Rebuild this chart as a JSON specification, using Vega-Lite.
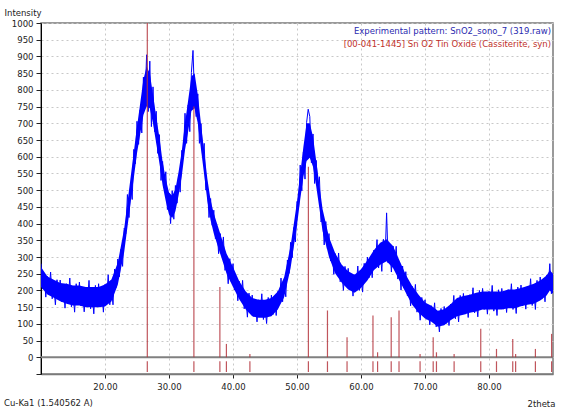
{
  "$schema": "https://vega.github.io/schema/vega-lite/v6.json",
  "width": 512,
  "height": 351,
  "autosize": "none",
  "padding": {"left": 41, "top": 23, "right": 9, "bottom": 37},
  "background": "white",
  "config": {
    "view": {"stroke": "#7a7a7a", "strokeWidth": 1.5},
    "font": "DejaVu Sans",
    "axis": {"labelFont": "DejaVu Sans", "titleFont": "DejaVu Sans", "labelFontSize": 8.5, "labelColor": "#222", "titleFontWeight": "normal", "titleFontSize": 8.5, "titleColor": "#222"}
  },
  "title": {"text": "Cu-Ka1 (1.540562 A)", "orient": "bottom", "anchor": "start", "frame": "group", "dx": -37, "dy": -9, "offset": 0, "fontSize": 8.5, "fontWeight": "normal", "color": "#222", "font": "DejaVu Sans"},
  "datasets": {
    "xrd": [
      {"t":10,"i":280},{"t":10.25,"i":205},{"t":10.5,"i":247},{"t":10.75,"i":180},{"t":11,"i":242},{"t":11.25,"i":198},{"t":11.5,"i":255},{"t":11.75,"i":175},
      {"t":12,"i":214},{"t":12.25,"i":157},{"t":12.5,"i":232},{"t":12.75,"i":174},{"t":13,"i":231},{"t":13.25,"i":166},{"t":13.5,"i":211},{"t":13.75,"i":147},
      {"t":14,"i":220},{"t":14.25,"i":174},{"t":14.5,"i":237},{"t":14.75,"i":151},{"t":15,"i":195},{"t":15.25,"i":135},{"t":15.5,"i":220},{"t":15.75,"i":160},
      {"t":16,"i":225},{"t":16.25,"i":154},{"t":16.5,"i":202},{"t":16.75,"i":136},{"t":17,"i":210},{"t":17.25,"i":165},{"t":17.5,"i":230},{"t":17.75,"i":145},
      {"t":18,"i":190},{"t":18.25,"i":130},{"t":18.5,"i":215},{"t":18.75,"i":155},{"t":19,"i":220},{"t":19.25,"i":150},{"t":19.5,"i":203},{"t":19.75,"i":135},
      {"t":20,"i":218},{"t":20.25,"i":172},{"t":20.5,"i":247},{"t":20.75,"i":157},{"t":21,"i":211},{"t":21.25,"i":157},{"t":21.5,"i":264},{"t":21.75,"i":209},
      {"t":22,"i":294},{"t":22.25,"i":241},{"t":22.5,"i":323},{"t":22.75,"i":272},{"t":23,"i":386},{"t":23.25,"i":370},{"t":23.5,"i":487},{"t":23.75,"i":418},
      {"t":24,"i":513},{"t":24.25,"i":472},{"t":24.5,"i":622},{"t":24.75,"i":579},{"t":25,"i":706},{"t":25.25,"i":637},{"t":25.5,"i":740},{"t":25.75,"i":671},
      {"t":26,"i":838},{"t":26.25,"i":759},{"t":26.5,"i":905},{"t":26.75,"i":735},{"t":27,"i":886},{"t":27.25,"i":690},{"t":27.5,"i":809},{"t":27.75,"i":675},
      {"t":28,"i":736},{"t":28.25,"i":610},{"t":28.5,"i":666},{"t":28.75,"i":529},{"t":29,"i":586},{"t":29.25,"i":508},{"t":29.5,"i":555},{"t":29.75,"i":442},
      {"t":30,"i":491},{"t":30.25,"i":400},{"t":30.5,"i":498},{"t":30.75,"i":413},{"t":31,"i":514},{"t":31.25,"i":461},{"t":31.5,"i":544},{"t":31.75,"i":494},
      {"t":32,"i":619},{"t":32.25,"i":600},{"t":32.5,"i":730},{"t":32.75,"i":640},{"t":33,"i":755},{"t":33.25,"i":675},{"t":33.5,"i":852},{"t":33.75,"i":918},
      {"t":34,"i":770},{"t":34.25,"i":720},{"t":34.5,"i":788},{"t":34.75,"i":640},{"t":35,"i":699},{"t":35.25,"i":601},{"t":35.5,"i":640},{"t":35.75,"i":500},
      {"t":36,"i":511},{"t":36.25,"i":418},{"t":36.5,"i":475},{"t":36.75,"i":395},{"t":37,"i":440},{"t":37.25,"i":355},{"t":37.5,"i":390},{"t":37.75,"i":310},
      {"t":38,"i":370},{"t":38.25,"i":310},{"t":38.5,"i":360},{"t":38.75,"i":260},{"t":39,"i":290},{"t":39.25,"i":220},{"t":39.5,"i":295},{"t":39.75,"i":225},
      {"t":40,"i":280},{"t":40.25,"i":201},{"t":40.5,"i":239},{"t":40.75,"i":169},{"t":41,"i":227},{"t":41.25,"i":178},{"t":41.5,"i":230},{"t":41.75,"i":145},
      {"t":42,"i":179},{"t":42.25,"i":120},{"t":42.5,"i":192},{"t":42.75,"i":133},{"t":43,"i":186},{"t":43.25,"i":122},{"t":43.5,"i":165},{"t":43.75,"i":106},
      {"t":44,"i":172},{"t":44.25,"i":132},{"t":44.5,"i":190},{"t":44.75,"i":113},{"t":45,"i":154},{"t":45.25,"i":101},{"t":45.5,"i":179},{"t":45.75,"i":127},
      {"t":46,"i":186},{"t":46.25,"i":128},{"t":46.5,"i":178},{"t":46.75,"i":125},{"t":47,"i":197},{"t":47.25,"i":166},{"t":47.5,"i":237},{"t":47.75,"i":166},
      {"t":48,"i":220},{"t":48.25,"i":181},{"t":48.5,"i":291},{"t":48.75,"i":251},{"t":49,"i":344},{"t":49.25,"i":298},{"t":49.5,"i":388},{"t":49.75,"i":345},
      {"t":50,"i":466},{"t":50.25,"i":451},{"t":50.5,"i":575},{"t":50.75,"i":498},{"t":51,"i":614},{"t":51.25,"i":533},{"t":51.5,"i":702},{"t":51.75,"i":742},
      {"t":52,"i":720},{"t":52.25,"i":582},{"t":52.5,"i":668},{"t":52.75,"i":520},{"t":53,"i":589},{"t":53.25,"i":496},{"t":53.5,"i":540},{"t":53.75,"i":405},
      {"t":54,"i":421},{"t":54.25,"i":336},{"t":54.5,"i":406},{"t":54.75,"i":325},{"t":55,"i":370},{"t":55.25,"i":288},{"t":55.5,"i":325},{"t":55.75,"i":248},
      {"t":56,"i":310},{"t":56.25,"i":257},{"t":56.5,"i":312},{"t":56.75,"i":226},{"t":57,"i":259},{"t":57.25,"i":200},{"t":57.5,"i":272},{"t":57.75,"i":213},
      {"t":58,"i":266},{"t":58.25,"i":201},{"t":58.5,"i":243},{"t":58.75,"i":183},{"t":59,"i":247},{"t":59.25,"i":211},{"t":59.5,"i":273},{"t":59.75,"i":200},
      {"t":60,"i":244},{"t":60.25,"i":195},{"t":60.5,"i":281},{"t":60.75,"i":230},{"t":61,"i":300},{"t":61.25,"i":238},{"t":61.5,"i":295},{"t":61.75,"i":238},
      {"t":62,"i":320},{"t":62.25,"i":280},{"t":62.5,"i":352},{"t":62.75,"i":267},{"t":63,"i":321},{"t":63.25,"i":257},{"t":63.5,"i":353},{"t":63.75,"i":290},
      {"t":64,"i":432},{"t":64.25,"i":282},{"t":64.5,"i":332},{"t":64.75,"i":255},{"t":65,"i":333},{"t":65.25,"i":274},{"t":65.5,"i":332},{"t":65.75,"i":234},
      {"t":66,"i":270},{"t":66.25,"i":201},{"t":66.5,"i":273},{"t":66.75,"i":207},{"t":67,"i":256},{"t":67.25,"i":184},{"t":67.5,"i":221},{"t":67.75,"i":154},
      {"t":68,"i":212},{"t":68.25,"i":166},{"t":68.5,"i":218},{"t":68.75,"i":135},{"t":69,"i":169},{"t":69.25,"i":111},{"t":69.5,"i":179},{"t":69.75,"i":125},
      {"t":70,"i":172},{"t":70.25,"i":114},{"t":70.5,"i":151},{"t":70.75,"i":97},{"t":71,"i":154},{"t":71.25,"i":114},{"t":71.5,"i":163},{"t":71.75,"i":91},
      {"t":72,"i":123},{"t":72.25,"i":76},{"t":72.5,"i":146},{"t":72.75,"i":99},{"t":73,"i":152},{"t":73.25,"i":100},{"t":73.5,"i":144},{"t":73.75,"i":95},
      {"t":74,"i":159},{"t":74.25,"i":127},{"t":74.5,"i":185},{"t":74.75,"i":115},{"t":75,"i":159},{"t":75.25,"i":106},{"t":75.5,"i":185},{"t":75.75,"i":132},
      {"t":76,"i":191},{"t":76.25,"i":129},{"t":76.5,"i":176},{"t":76.75,"i":119},{"t":77,"i":187},{"t":77.25,"i":148},{"t":77.5,"i":208},{"t":77.75,"i":133},
      {"t":78,"i":174},{"t":78.25,"i":121},{"t":78.5,"i":200},{"t":78.75,"i":147},{"t":79,"i":206},{"t":79.25,"i":143},{"t":79.5,"i":188},{"t":79.75,"i":129},
      {"t":80,"i":197},{"t":80.25,"i":156},{"t":80.5,"i":215},{"t":80.75,"i":138},{"t":81,"i":179},{"t":81.25,"i":125},{"t":81.5,"i":202},{"t":81.75,"i":148},
      {"t":82,"i":206},{"t":82.25,"i":144},{"t":82.5,"i":191},{"t":82.75,"i":134},{"t":83,"i":202},{"t":83.25,"i":161},{"t":83.5,"i":220},{"t":83.75,"i":143},
      {"t":84,"i":184},{"t":84.25,"i":131},{"t":84.5,"i":210},{"t":84.75,"i":157},{"t":85,"i":216},{"t":85.25,"i":154},{"t":85.5,"i":201},{"t":85.75,"i":144},
      {"t":86,"i":212},{"t":86.25,"i":172},{"t":86.5,"i":235},{"t":86.75,"i":155},{"t":87,"i":200},{"t":87.25,"i":143},{"t":87.5,"i":230},{"t":87.75,"i":173},
      {"t":88,"i":240},{"t":88.25,"i":174},{"t":88.5,"i":228},{"t":88.75,"i":166},{"t":89,"i":245},{"t":89.25,"i":207},{"t":89.5,"i":280},{"t":89.75,"i":190},
      {"t":90,"i":230}
    ],
    "band": [
      {"t":10,"lo":210,"hi":270},{"t":11,"lo":188,"hi":242},{"t":12,"lo":178,"hi":232},{"t":13,"lo":168,"hi":222},{"t":14,"lo":160,"hi":220},
      {"t":15,"lo":155,"hi":215},{"t":16,"lo":155,"hi":215},{"t":17,"lo":150,"hi":210},{"t":18,"lo":150,"hi":210},{"t":19,"lo":150,"hi":210},
      {"t":20,"lo":152,"hi":218},{"t":21,"lo":167,"hi":233},{"t":22,"lo":217,"hi":283},{"t":23,"lo":315,"hi":385},{"t":24,"lo":462,"hi":538},
      {"t":25,"lo":610,"hi":690},{"t":26,"lo":725,"hi":830},{"t":26.5,"lo":750,"hi":870},{"t":27,"lo":745,"hi":850},{"t":27.5,"lo":700,"hi":785},
      {"t":28,"lo":640,"hi":720},{"t":28.5,"lo":582,"hi":658},{"t":29,"lo":515,"hi":585},{"t":29.5,"lo":467,"hi":533},{"t":30,"lo":427,"hi":493},
      {"t":30.5,"lo":417,"hi":483},{"t":31,"lo":437,"hi":503},{"t":31.5,"lo":485,"hi":555},{"t":32,"lo":542,"hi":618},{"t":32.5,"lo":620,"hi":700},
      {"t":33,"lo":677,"hi":770},{"t":33.5,"lo":737,"hi":840},{"t":34,"lo":745,"hi":850},{"t":34.5,"lo":700,"hi":785},{"t":35,"lo":622,"hi":698},
      {"t":35.5,"lo":545,"hi":615},{"t":36,"lo":467,"hi":533},{"t":36.5,"lo":410,"hi":470},{"t":37,"lo":370,"hi":430},{"t":38,"lo":310,"hi":370},
      {"t":39,"lo":250,"hi":310},{"t":40,"lo":210,"hi":270},{"t":41,"lo":173,"hi":227},{"t":42,"lo":143,"hi":197},{"t":43,"lo":123,"hi":177},
      {"t":44,"lo":118,"hi":172},{"t":45,"lo":118,"hi":172},{"t":46,"lo":123,"hi":177},{"t":47,"lo":143,"hi":197},{"t":48,"lo":180,"hi":240},
      {"t":49,"lo":267,"hi":333},{"t":50,"lo":395,"hi":465},{"t":50.5,"lo":472,"hi":548},{"t":51,"lo":540,"hi":630},{"t":51.5,"lo":587,"hi":700},
      {"t":52,"lo":597,"hi":700},{"t":52.5,"lo":570,"hi":660},{"t":53,"lo":512,"hi":588},{"t":53.5,"lo":445,"hi":515},{"t":54,"lo":377,"hi":443},
      {"t":55,"lo":300,"hi":360},{"t":56,"lo":250,"hi":310},{"t":57,"lo":223,"hi":277},{"t":58,"lo":203,"hi":257},{"t":59,"lo":193,"hi":247},
      {"t":60,"lo":207,"hi":263},{"t":61,"lo":230,"hi":290},{"t":62,"lo":260,"hi":320},{"t":63,"lo":277,"hi":343},{"t":64,"lo":287,"hi":353},
      {"t":65,"lo":267,"hi":333},{"t":66,"lo":230,"hi":290},{"t":67,"lo":193,"hi":247},{"t":68,"lo":157,"hi":213},{"t":69,"lo":133,"hi":187},
      {"t":70,"lo":116,"hi":164},{"t":71,"lo":106,"hi":154},{"t":72,"lo":91,"hi":139},{"t":73,"lo":96,"hi":144},{"t":74,"lo":111,"hi":159},
      {"t":75,"lo":123,"hi":177},{"t":76,"lo":127,"hi":183},{"t":77,"lo":133,"hi":187},{"t":78,"lo":137,"hi":193},{"t":79,"lo":143,"hi":197},
      {"t":80,"lo":143,"hi":197},{"t":81,"lo":143,"hi":197},{"t":82,"lo":143,"hi":197},{"t":83,"lo":147,"hi":203},{"t":84,"lo":147,"hi":203},
      {"t":85,"lo":153,"hi":207},{"t":86,"lo":157,"hi":213},{"t":87,"lo":160,"hi":220},{"t":88,"lo":170,"hi":230},{"t":89,"lo":185,"hi":245},
      {"t":89.5,"lo":200,"hi":260},{"t":90,"lo":190,"hi":250}
    ],
    "sticks": [
      {"t":26.61,"h":1000},{"t":33.89,"h":750},{"t":37.95,"h":210},{"t":38.97,"h":40},{"t":42.64,"h":10},
      {"t":51.78,"h":570},{"t":54.76,"h":140},{"t":57.82,"h":60},{"t":61.87,"h":125},{"t":62.59,"h":15},
      {"t":64.72,"h":120},{"t":65.94,"h":140},{"t":69.23,"h":10},{"t":71.28,"h":60},{"t":71.79,"h":15},
      {"t":74.55,"h":10},{"t":78.71,"h":85},{"t":81.17,"h":25},{"t":83.71,"h":55},{"t":84.16,"h":10},
      {"t":87.25,"h":25},{"t":89.78,"h":70}
    ],
    "one": [{}]
  },
  "layer": [
    {
      "data": {"name": "band"},
      "mark": {"type": "area", "color": "#0000ff", "opacity": 1, "clip": true},
      "encoding": {
        "x": {"field": "t", "type": "quantitative", "scale": {"domain": [10, 90], "nice": false, "zero": false},
          "axis": {"values": [20, 30, 40, 50, 60, 70, 80], "format": ".2f", "grid": true, "gridColor": "#c8c8c8", "gridDash": [2, 3], "domainColor": "#7a7a7a", "domainWidth": 1.5, "tickColor": "#222", "tickSize": 4, "labelPadding": 4,
            "title": "2theta", "titleX": 486, "titleY": 29, "titleAlign": "left", "titleBaseline": "middle", "titleAnchor": "start"}},
        "y": {"field": "lo", "type": "quantitative", "scale": {"domain": [-50, 1000], "nice": false, "zero": false},
          "axis": {"tickCount": 21, "labelExpr": "datum.value < 0 ? '' : format(datum.value, 'd')", "labelOverlap": false, "grid": true, "gridColor": "#c8c8c8", "gridDash": [2, 3], "domainColor": "#000", "domainWidth": 1, "tickColor": "#222", "tickSize": 5, "labelPadding": 3,
            "title": "Intensity", "titleAngle": 0, "titleX": -37, "titleY": -11, "titleAlign": "left", "titleBaseline": "middle"}},
        "y2": {"field": "hi"}
      }
    },
    {
      "data": {"name": "xrd"},
      "mark": {"type": "line", "color": "#0000ff", "strokeWidth": 1, "clip": true},
      "encoding": {
        "x": {"field": "t", "type": "quantitative"},
        "y": {"field": "i", "type": "quantitative"}
      }
    },
    {
      "data": {"name": "one"},
      "mark": {"type": "rule", "color": "#808080", "strokeWidth": 2},
      "encoding": {"y": {"datum": 0}}
    },
    {
      "data": {"name": "sticks"},
      "mark": {"type": "rule", "color": "#b5373f", "strokeWidth": 1.2, "opacity": 0.85},
      "encoding": {"x": {"field": "t", "type": "quantitative"}, "y": {"field": "h", "type": "quantitative"}, "y2": {"datum": 0}}
    },
    {
      "data": {"name": "sticks"},
      "mark": {"type": "rule", "color": "#b5373f", "strokeWidth": 1.2, "opacity": 0.85},
      "encoding": {"x": {"field": "t", "type": "quantitative"}, "y": {"datum": -12}, "y2": {"datum": -44}}
    },
    {
      "data": {"name": "one"},
      "mark": {"type": "text", "text": "Experimental pattern: SnO2_sono_7 (319.raw)", "align": "right", "baseline": "middle", "color": "#2a2ab0", "fontSize": 8.5, "font": "DejaVu Sans"},
      "encoding": {"x": {"datum": 89.7}, "y": {"datum": 976}}
    },
    {
      "data": {"name": "one"},
      "mark": {"type": "text", "text": "[00-041-1445] Sn O2 Tin Oxide (Cassiterite, syn)", "align": "right", "baseline": "middle", "color": "#c0302a", "fontSize": 8.5, "font": "DejaVu Sans"},
      "encoding": {"x": {"datum": 89.7}, "y": {"datum": 937}}
    }
  ]
}
